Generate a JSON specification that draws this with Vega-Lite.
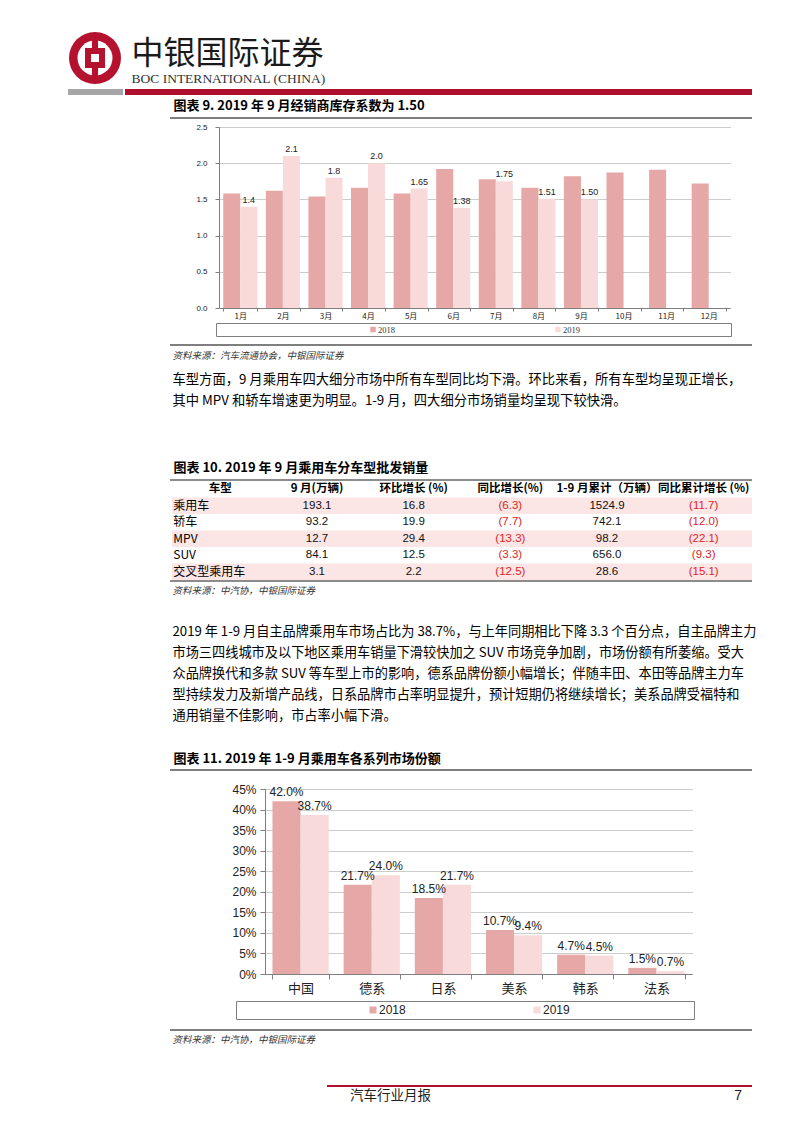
{
  "$schema": "https://vega.github.io/schema/vega-lite/v6.json",
  "background": "white",
  "padding": {"left": 68, "top": 27, "right": 50, "bottom": 31},
  "autosize": {"type": "pad"},
  "spacing": 0,
  "resolve": {"scale": {"color": "independent", "xOffset": "independent"}},
  "config": {
    "view": {"stroke": null},
    "font": "Noto Sans CJK SC",
    "concat": {"spacing": 0},
    "text": {"font": "Noto Sans CJK SC"}
  },
  "datasets": {
    "empty": [],
    "leg": [{"s": "2018"}, {"s": "2019"}],
    "c9": [
      {"m": "1月", "s": "2018", "v": 1.58}, {"m": "1月", "s": "2019", "v": 1.4, "lab": "1.4"},
      {"m": "2月", "s": "2018", "v": 1.62}, {"m": "2月", "s": "2019", "v": 2.1, "lab": "2.1"},
      {"m": "3月", "s": "2018", "v": 1.54}, {"m": "3月", "s": "2019", "v": 1.8, "lab": "1.8"},
      {"m": "4月", "s": "2018", "v": 1.66}, {"m": "4月", "s": "2019", "v": 2.0, "lab": "2.0"},
      {"m": "5月", "s": "2018", "v": 1.58}, {"m": "5月", "s": "2019", "v": 1.65, "lab": "1.65"},
      {"m": "6月", "s": "2018", "v": 1.92}, {"m": "6月", "s": "2019", "v": 1.38, "lab": "1.38"},
      {"m": "7月", "s": "2018", "v": 1.78}, {"m": "7月", "s": "2019", "v": 1.75, "lab": "1.75"},
      {"m": "8月", "s": "2018", "v": 1.66}, {"m": "8月", "s": "2019", "v": 1.51, "lab": "1.51"},
      {"m": "9月", "s": "2018", "v": 1.82}, {"m": "9月", "s": "2019", "v": 1.50, "lab": "1.50"},
      {"m": "10月", "s": "2018", "v": 1.87},
      {"m": "11月", "s": "2018", "v": 1.91},
      {"m": "12月", "s": "2018", "v": 1.72}
    ],
    "c11": [
      {"cat": "中国", "s": "2018", "v": 0.420}, {"cat": "中国", "s": "2019", "v": 0.387},
      {"cat": "德系", "s": "2018", "v": 0.217}, {"cat": "德系", "s": "2019", "v": 0.240},
      {"cat": "日系", "s": "2018", "v": 0.185}, {"cat": "日系", "s": "2019", "v": 0.217},
      {"cat": "美系", "s": "2018", "v": 0.107}, {"cat": "美系", "s": "2019", "v": 0.094},
      {"cat": "韩系", "s": "2018", "v": 0.047}, {"cat": "韩系", "s": "2019", "v": 0.045},
      {"cat": "法系", "s": "2018", "v": 0.015}, {"cat": "法系", "s": "2019", "v": 0.007}
    ],
    "tbl": [
      {"r": 0, "c": 1, "v": "车型"}, {"r": 0, "c": 2, "v": "9 月(万辆)"}, {"r": 0, "c": 3, "v": "环比增长 (%)"},
      {"r": 0, "c": 4, "v": "同比增长(%)"}, {"r": 0, "c": 5, "v": "1-9 月累计（万辆）"}, {"r": 0, "c": 6, "v": "同比累计增长 (%)"},
      {"r": 1, "c": 1, "v": "乘用车"}, {"r": 1, "c": 2, "v": "193.1"}, {"r": 1, "c": 3, "v": "16.8"},
      {"r": 1, "c": 4, "v": "(6.3)"}, {"r": 1, "c": 5, "v": "1524.9"}, {"r": 1, "c": 6, "v": "(11.7)"},
      {"r": 2, "c": 1, "v": "轿车"}, {"r": 2, "c": 2, "v": "93.2"}, {"r": 2, "c": 3, "v": "19.9"},
      {"r": 2, "c": 4, "v": "(7.7)"}, {"r": 2, "c": 5, "v": "742.1"}, {"r": 2, "c": 6, "v": "(12.0)"},
      {"r": 3, "c": 1, "v": "MPV"}, {"r": 3, "c": 2, "v": "12.7"}, {"r": 3, "c": 3, "v": "29.4"},
      {"r": 3, "c": 4, "v": "(13.3)"}, {"r": 3, "c": 5, "v": "98.2"}, {"r": 3, "c": 6, "v": "(22.1)"},
      {"r": 4, "c": 1, "v": "SUV"}, {"r": 4, "c": 2, "v": "84.1"}, {"r": 4, "c": 3, "v": "12.5"},
      {"r": 4, "c": 4, "v": "(3.3)"}, {"r": 4, "c": 5, "v": "656.0"}, {"r": 4, "c": 6, "v": "(9.3)"},
      {"r": 5, "c": 1, "v": "交叉型乘用车"}, {"r": 5, "c": 2, "v": "3.1"}, {"r": 5, "c": 3, "v": "2.2"},
      {"r": 5, "c": 4, "v": "(12.5)"}, {"r": 5, "c": 5, "v": "28.6"}, {"r": 5, "c": 6, "v": "(15.1)"}
    ],
    "p1": [
      {"i": 1, "t": "车型方面，9 月乘用车四大细分市场中所有车型同比均下滑。环比来看，所有车型均呈现正增长，"},
      {"i": 2, "t": "其中 MPV 和轿车增速更为明显。1-9 月，四大细分市场销量均呈现下较快滑。"}
    ],
    "p2": [
      {"i": 1, "t": "2019 年 1-9 月自主品牌乘用车市场占比为 38.7%，与上年同期相比下降 3.3 个百分点，自主品牌主力"},
      {"i": 2, "t": "市场三四线城市及以下地区乘用车销量下滑较快加之 SUV 市场竞争加剧，市场份额有所萎缩。受大"},
      {"i": 3, "t": "众品牌换代和多款 SUV 等车型上市的影响，德系品牌份额小幅增长；伴随丰田、本田等品牌主力车"},
      {"i": 4, "t": "型持续发力及新增产品线，日系品牌市占率明显提升，预计短期仍将继续增长；美系品牌受福特和"},
      {"i": 5, "t": "通用销量不佳影响，市占率小幅下滑。"}
    ]
  },
  "vconcat": [
    {"hconcat": [
      {"width": 54, "height": 62, "data": {"values": [{"k": 1}]}, "layer": [
        {"mark": {"type": "point", "shape": "circle", "filled": true, "size": 2704, "color": "#B5122F", "opacity": 1, "strokeWidth": 0}},
        {"mark": {"type": "point", "shape": "circle", "filled": true, "size": 1225, "color": "white", "opacity": 1, "strokeWidth": 0}},
        {"mark": {"type": "point", "shape": "M-0.17,-1L0.17,-1L0.17,1L-0.17,1Z", "filled": true, "size": 1296, "color": "#B5122F", "opacity": 1, "strokeWidth": 0}},
        {"mark": {"type": "point", "shape": "square", "filled": true, "size": 400, "color": "#B5122F", "opacity": 1, "strokeWidth": 0}},
        {"mark": {"type": "point", "shape": "square", "filled": true, "size": 64, "color": "white", "opacity": 1, "strokeWidth": 0}}
      ]},
      {"width": 1, "height": 62,
       "data": {"values": [{"k": "cn", "t": "中银国际证券"}, {"k": "en", "t": "BOC INTERNATIONAL (CHINA)"}]},
       "encoding": {
         "y": {"field": "k", "type": "nominal", "scale": {"type": "point", "domain": ["cn", "en"], "padding": 0.74}, "axis": null},
         "text": {"field": "t"}
       },
       "layer": [
         {"transform": [{"filter": "datum.k === 'cn'"}], "mark": {"type": "text", "align": "left", "baseline": "middle", "fontSize": 32, "dy": 8, "color": "#1a1a1a"}},
         {"transform": [{"filter": "datum.k === 'en'"}], "mark": {"type": "text", "align": "left", "baseline": "middle", "fontSize": 13.5, "font": "Liberation Serif", "dy": 8, "color": "#333333"}}
       ]}
    ], "spacing": 9},
    {"hconcat": [
      {"width": 55, "height": 6, "view": {"fill": "#A6A6A6", "stroke": null}, "data": {"name": "empty"}, "mark": "point"},
      {"width": 627, "height": 6, "view": {"fill": "#B0102F", "stroke": null}, "data": {"name": "empty"}, "mark": "point"}
    ], "spacing": 2},
    {"hconcat": [
      {"width": 105, "height": 22, "data": {"name": "empty"}, "mark": "point"},
      {"width": 1, "height": 22, "data": {"values": [{"t": "图表 9. 2019 年 9 月经销商库存系数为 1.50"}]},
       "mark": {"type": "text", "align": "left", "baseline": "middle", "fontSize": 13, "fontWeight": "bold", "color": "#000000"},
       "encoding": {"text": {"field": "t"}}}
    ], "spacing": 0},
    {"hconcat": [
      {"width": 102, "height": 2, "data": {"name": "empty"}, "mark": "point"},
      {"width": 582, "height": 2, "view": {"fill": "#7F7F7F", "stroke": null}, "data": {"name": "empty"}, "mark": "point"}
    ], "spacing": 0},
    {
      "width": 684, "height": 203,
      "data": {"name": "c9"},
      "encoding": {
        "x": {"field": "m", "type": "nominal", "title": null,
          "scale": {"domain": ["1月", "2月", "3月", "4月", "5月", "6月", "7月", "8月", "9月", "10月", "11月", "12月"], "range": [151, 662], "paddingInner": 0.2, "paddingOuter": 0.1},
          "axis": {"offset": -14, "labelAngle": 0, "tickBand": "extent", "domainColor": "#7f7f7f", "tickColor": "#7f7f7f", "tickSize": 3, "labelFontSize": 8, "labelColor": "#222222", "labelPadding": 1, "grid": false}},
        "xOffset": {"field": "s", "type": "nominal", "scale": {"domain": ["2018", "2019"]}},
        "y": {"field": "v", "type": "quantitative", "title": null,
          "scale": {"domain": [0, 2.5], "range": [189, 8], "nice": false},
          "axis": {"offset": -151, "values": [0, 0.5, 1, 1.5, 2, 2.5], "format": ".1f", "grid": true, "gridDash": [1, 1], "gridColor": "#999999", "domainColor": "#7f7f7f", "tickColor": "#7f7f7f", "tickSize": 4, "labelPadding": 8, "labelFont": "Liberation Sans", "labelFontSize": 8, "labelColor": "#222222"}}
      },
      "layer": [
        {"mark": {"type": "bar"}, "encoding": {"color": {"field": "s", "type": "nominal", "scale": {"domain": ["2018", "2019"], "range": ["#E6A7A7", "#F9DADA"]}, "legend": null}}},
        {"transform": [{"filter": "datum.s === '2019'"}], "mark": {"type": "text", "baseline": "bottom", "dy": -2, "font": "Liberation Sans", "fontSize": 9, "color": "#222222"}, "encoding": {"text": {"field": "lab"}}}
      ]
    },
    {"hconcat": [
      {"width": 147, "height": 21, "data": {"name": "empty"}, "mark": "point"},
      {"width": 515, "height": 13, "view": {"stroke": "#7F7F7F", "strokeWidth": 1}, "data": {"name": "leg"},
       "encoding": {"x": {"field": "s", "type": "nominal", "scale": {"type": "point", "padding": 0.892}, "axis": null}},
       "layer": [
         {"mark": {"type": "point", "shape": "square", "filled": true, "size": 30, "opacity": 1, "strokeWidth": 0},
          "encoding": {"color": {"field": "s", "type": "nominal", "scale": {"domain": ["2018", "2019"], "range": ["#E6A7A7", "#F9DADA"]}, "legend": null}, "xOffset": {"value": -8}}},
         {"mark": {"type": "text", "align": "left", "baseline": "middle", "dx": -3, "font": "Liberation Serif", "fontSize": 8.5, "color": "#333333"}, "encoding": {"text": {"field": "s"}}}
       ]}
    ], "spacing": 0},
    {"hconcat": [
      {"width": 102, "height": 2, "data": {"name": "empty"}, "mark": "point"},
      {"width": 582, "height": 2, "view": {"fill": "#7F7F7F", "stroke": null}, "data": {"name": "empty"}, "mark": "point"}
    ], "spacing": 0},
    {"hconcat": [
      {"width": 104, "height": 20, "data": {"name": "empty"}, "mark": "point"},
      {"width": 1, "height": 20, "data": {"values": [{"t": "资料来源：汽车流通协会，中银国际证券"}]},
       "mark": {"type": "text", "align": "left", "baseline": "middle", "fontSize": 9.5, "fontStyle": "italic", "color": "#333333"},
       "encoding": {"text": {"field": "t"}}}
    ], "spacing": 0},
    {"width": 1, "height": 3, "data": {"name": "empty"}, "mark": "point"},
    {"hconcat": [
      {"width": 104, "height": 42, "data": {"name": "empty"}, "mark": "point"},
      {"width": 1, "height": 42, "data": {"name": "p1"},
       "mark": {"type": "text", "align": "left", "baseline": "middle", "fontSize": 13.3, "color": "#000000"},
       "encoding": {"y": {"field": "i", "type": "ordinal", "axis": null, "scale": {"type": "point", "padding": 0.5}}, "text": {"field": "t"}}}
    ], "spacing": 0},
    {"width": 1, "height": 45, "data": {"name": "empty"}, "mark": "point"},
    {"hconcat": [
      {"width": 105, "height": 23, "data": {"name": "empty"}, "mark": "point"},
      {"width": 1, "height": 23, "data": {"values": [{"t": "图表 10. 2019 年 9 月乘用车分车型批发销量"}]},
       "mark": {"type": "text", "align": "left", "baseline": "middle", "fontSize": 13, "fontWeight": "bold", "color": "#000000"},
       "encoding": {"text": {"field": "t"}}}
    ], "spacing": 0},
    {"hconcat": [
      {"width": 102, "height": 2, "data": {"name": "empty"}, "mark": "point"},
      {"width": 582, "height": 2, "view": {"fill": "#8C8C8C", "stroke": null}, "data": {"name": "empty"}, "mark": "point"}
    ], "spacing": 0},
    {"hconcat": [
      {"width": 104, "height": 99, "data": {"name": "empty"}, "mark": "point"},
      {"width": 580, "height": 99,
       "encoding": {"y": {"field": "r", "type": "ordinal", "scale": {"domain": [0, 1, 2, 3, 4, 5], "paddingInner": 0, "paddingOuter": 0}, "axis": null}},
       "layer": [
         {"data": {"values": [{"r": 1}, {"r": 3}, {"r": 5}]}, "mark": {"type": "rect", "color": "#FBE5E5"}},
         {"data": {"name": "tbl"}, "transform": [{"filter": "datum.r === 0"}],
          "mark": {"type": "text", "baseline": "middle", "fontSize": 11.5, "fontWeight": "bold", "color": "#000000"},
          "encoding": {"x": {"field": "c", "type": "ordinal", "scale": {"domain": [1, 2, 3, 4, 5, 6], "paddingInner": 0, "paddingOuter": 0}, "axis": null}, "text": {"field": "v"}}},
         {"data": {"name": "tbl"}, "transform": [{"filter": "datum.r > 0 && datum.c === 1"}],
          "mark": {"type": "text", "align": "left", "baseline": "middle", "dx": -47, "fontSize": 12, "color": "#000000"},
          "encoding": {"x": {"field": "c", "type": "ordinal", "scale": {"domain": [1, 2, 3, 4, 5, 6], "paddingInner": 0, "paddingOuter": 0}, "axis": null}, "text": {"field": "v"}}},
         {"data": {"name": "tbl"}, "transform": [{"filter": "datum.r > 0 && datum.c > 1"}],
          "mark": {"type": "text", "baseline": "middle", "font": "Liberation Sans", "fontSize": 11.5},
          "encoding": {"x": {"field": "c", "type": "ordinal", "scale": {"domain": [1, 2, 3, 4, 5, 6], "paddingInner": 0, "paddingOuter": 0}, "axis": null}, "text": {"field": "v"},
            "color": {"condition": {"test": "indexof(datum.v, '(') === 0", "value": "#E02424"}, "value": "#111111"}}}
       ]}
    ], "spacing": 0},
    {"hconcat": [
      {"width": 102, "height": 2, "data": {"name": "empty"}, "mark": "point"},
      {"width": 582, "height": 2, "view": {"fill": "#8C8C8C", "stroke": null}, "data": {"name": "empty"}, "mark": "point"}
    ], "spacing": 0},
    {"hconcat": [
      {"width": 104, "height": 17, "data": {"name": "empty"}, "mark": "point"},
      {"width": 1, "height": 17, "data": {"values": [{"t": "资料来源：中汽协，中银国际证券"}]},
       "mark": {"type": "text", "align": "left", "baseline": "middle", "fontSize": 9.5, "fontStyle": "italic", "color": "#333333"},
       "encoding": {"text": {"field": "t"}}}
    ], "spacing": 0},
    {"width": 1, "height": 22, "data": {"name": "empty"}, "mark": "point"},
    {"hconcat": [
      {"width": 104, "height": 105, "data": {"name": "empty"}, "mark": "point"},
      {"width": 1, "height": 105, "data": {"name": "p2"},
       "mark": {"type": "text", "align": "left", "baseline": "middle", "fontSize": 13.2, "color": "#000000"},
       "encoding": {"y": {"field": "i", "type": "ordinal", "axis": null, "scale": {"type": "point", "padding": 0.5}}, "text": {"field": "t"}}}
    ], "spacing": 0},
    {"width": 1, "height": 22, "data": {"name": "empty"}, "mark": "point"},
    {"hconcat": [
      {"width": 105, "height": 21, "data": {"name": "empty"}, "mark": "point"},
      {"width": 1, "height": 21, "data": {"values": [{"t": "图表 11. 2019 年 1-9 月乘用车各系列市场份额"}]},
       "mark": {"type": "text", "align": "left", "baseline": "middle", "fontSize": 13, "fontWeight": "bold", "color": "#000000"},
       "encoding": {"text": {"field": "t"}}}
    ], "spacing": 0},
    {"hconcat": [
      {"width": 102, "height": 2, "data": {"name": "empty"}, "mark": "point"},
      {"width": 582, "height": 2, "view": {"fill": "#7F7F7F", "stroke": null}, "data": {"name": "empty"}, "mark": "point"}
    ], "spacing": 0},
    {
      "width": 684, "height": 229,
      "data": {"name": "c11"},
      "encoding": {
        "x": {"field": "cat", "type": "nominal", "title": null,
          "scale": {"domain": ["中国", "德系", "日系", "美系", "韩系", "法系"], "range": [197, 624], "paddingInner": 0.21, "paddingOuter": 0.105},
          "axis": {"offset": -26, "labelAngle": 0, "tickBand": "extent", "domainColor": "#7f7f7f", "tickColor": "#7f7f7f", "tickSize": 5, "labelFontSize": 13, "labelColor": "#222222", "labelPadding": 3, "grid": false}},
        "xOffset": {"field": "s", "type": "nominal", "scale": {"domain": ["2018", "2019"]}},
        "y": {"field": "v", "type": "quantitative", "title": null,
          "scale": {"domain": [0, 0.45], "range": [203, 18], "nice": false},
          "axis": {"offset": -197, "values": [0, 0.05, 0.1, 0.15, 0.2, 0.25, 0.3, 0.35, 0.4, 0.45], "format": ".0%", "grid": true, "gridDash": [1, 1], "gridColor": "#999999", "domainColor": "#7f7f7f", "tickColor": "#7f7f7f", "tickSize": 5, "labelPadding": 4, "labelFont": "Liberation Sans", "labelFontSize": 12, "labelColor": "#222222"}}
      },
      "layer": [
        {"mark": {"type": "bar"}, "encoding": {"color": {"field": "s", "type": "nominal", "scale": {"domain": ["2018", "2019"], "range": ["#E6A7A7", "#F9DADA"]}, "legend": null}}},
        {"mark": {"type": "text", "baseline": "bottom", "dy": -2, "font": "Liberation Sans", "fontSize": 12, "color": "#222222"}, "encoding": {"text": {"field": "v", "format": ".1%"}}}
      ]
    },
    {"hconcat": [
      {"width": 167, "height": 28, "data": {"name": "empty"}, "mark": "point"},
      {"width": 458, "height": 18, "view": {"stroke": "#7F7F7F", "strokeWidth": 1}, "data": {"name": "leg"},
       "encoding": {"x": {"field": "s", "type": "nominal", "scale": {"type": "point", "padding": 0.896}, "axis": null}},
       "layer": [
         {"mark": {"type": "point", "shape": "square", "filled": true, "size": 49, "opacity": 1, "strokeWidth": 0},
          "encoding": {"color": {"field": "s", "type": "nominal", "scale": {"domain": ["2018", "2019"], "range": ["#E6A7A7", "#F9DADA"]}, "legend": null}, "xOffset": {"value": -10}}},
         {"mark": {"type": "text", "align": "left", "baseline": "middle", "dx": -4, "font": "Liberation Sans", "fontSize": 12, "color": "#222222"}, "encoding": {"text": {"field": "s"}}}
       ]}
    ], "spacing": 0},
    {"hconcat": [
      {"width": 102, "height": 2, "data": {"name": "empty"}, "mark": "point"},
      {"width": 582, "height": 2, "view": {"fill": "#7F7F7F", "stroke": null}, "data": {"name": "empty"}, "mark": "point"}
    ], "spacing": 0},
    {"hconcat": [
      {"width": 104, "height": 18, "data": {"name": "empty"}, "mark": "point"},
      {"width": 1, "height": 18, "data": {"values": [{"t": "资料来源：中汽协，中银国际证券"}]},
       "mark": {"type": "text", "align": "left", "baseline": "middle", "fontSize": 9.5, "fontStyle": "italic", "color": "#333333"},
       "encoding": {"text": {"field": "t"}}}
    ], "spacing": 0},
    {"width": 1, "height": 36, "data": {"name": "empty"}, "mark": "point"},
    {"hconcat": [
      {"width": 259, "height": 2, "data": {"name": "empty"}, "mark": "point"},
      {"width": 425, "height": 2, "view": {"fill": "#B0102F", "stroke": null}, "data": {"name": "empty"}, "mark": "point"}
    ], "spacing": 0},
    {"hconcat": [
      {"width": 282, "height": 17, "data": {"name": "empty"}, "mark": "point"},
      {"width": 392, "height": 17,
       "data": {"values": [{"k": "l", "t": "汽车行业月报"}, {"k": "r", "t": "7"}]},
       "encoding": {"x": {"field": "k", "type": "nominal", "scale": {"type": "point", "domain": ["l", "r"], "padding": 0}, "axis": null}, "text": {"field": "t"}},
       "layer": [
         {"transform": [{"filter": "datum.k === 'l'"}], "mark": {"type": "text", "align": "left", "baseline": "middle", "fontSize": 13.5, "color": "#222222"}},
         {"transform": [{"filter": "datum.k === 'r'"}], "mark": {"type": "text", "align": "right", "baseline": "middle", "font": "Liberation Sans", "fontSize": 14, "color": "#222222"}}
       ]}
    ], "spacing": 0}
  ]
}
